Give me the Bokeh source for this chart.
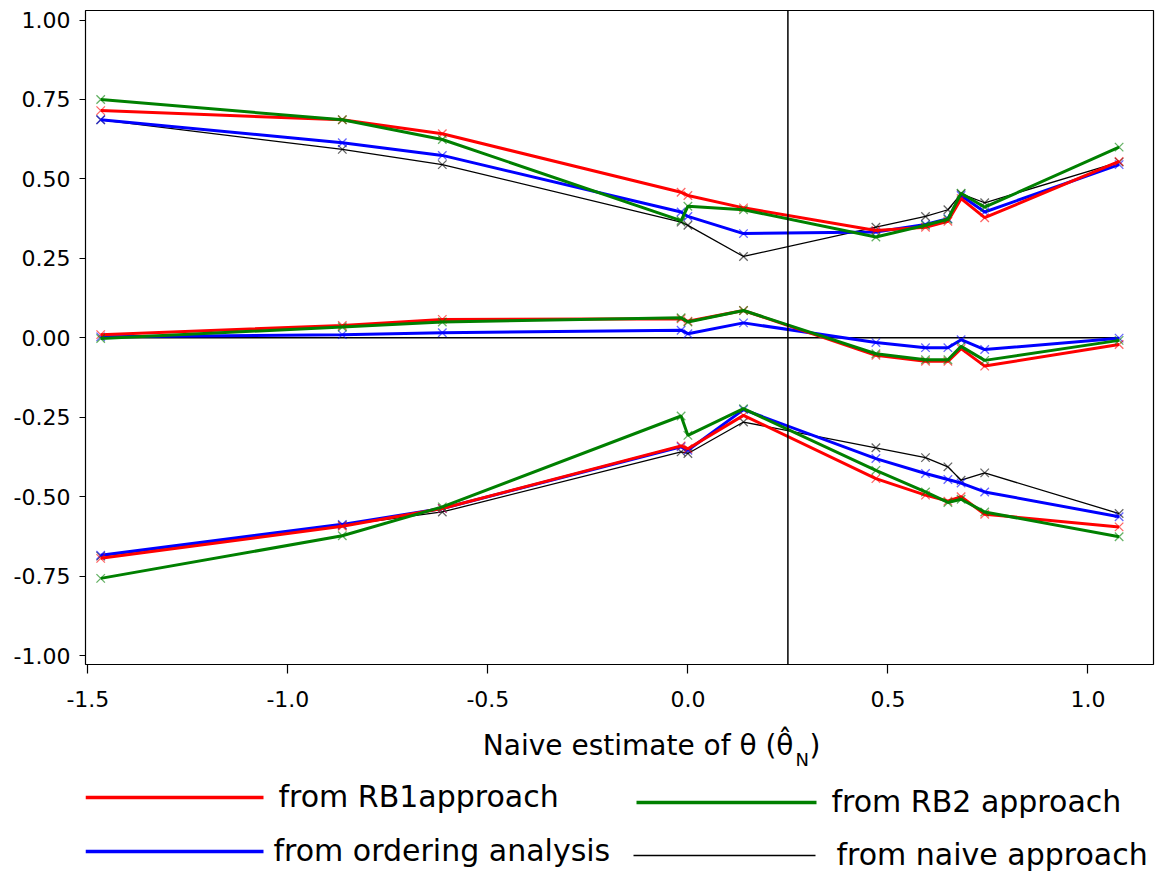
from bokeh.plotting import figure
from bokeh.models import Range1d, FixedTicker, PrintfTickFormatter, Span
from bokeh.layouts import column
from bokeh.embed import file_html
from bokeh.resources import INLINE
from bokeh.core.properties import value

# ---------------- data ----------------
theta_naive = [-1.468, -0.864, -0.614, -0.017, 0.000, 0.139, 0.470, 0.594, 0.650, 0.683, 0.742, 1.078]

rb1_upper = [0.715, 0.686, 0.642, 0.458, 0.448, 0.409, 0.338, 0.348, 0.367, 0.438, 0.378, 0.555]
rb1_mid   = [0.010, 0.039, 0.058, 0.060, 0.052, 0.086, -0.055, -0.074, -0.074, -0.034, -0.089, -0.021]
rb1_lower = [-0.694, -0.593, -0.537, -0.340, -0.349, -0.244, -0.443, -0.495, -0.514, -0.500, -0.555, -0.595]

rb2_upper = [0.750, 0.686, 0.624, 0.369, 0.414, 0.403, 0.317, 0.354, 0.373, 0.455, 0.411, 0.600]
rb2_mid   = [-0.002, 0.034, 0.050, 0.063, 0.050, 0.086, -0.050, -0.069, -0.069, -0.027, -0.071, -0.008]
rb2_lower = [-0.757, -0.623, -0.532, -0.246, -0.307, -0.223, -0.417, -0.485, -0.518, -0.508, -0.548, -0.626]

ord_upper = [0.686, 0.614, 0.574, 0.396, 0.382, 0.328, 0.333, 0.357, 0.375, 0.448, 0.396, 0.545]
ord_mid   = [0.003, 0.010, 0.016, 0.024, 0.013, 0.047, -0.015, -0.031, -0.031, -0.006, -0.037, -0.001]
ord_lower = [-0.684, -0.587, -0.537, -0.343, -0.354, -0.226, -0.380, -0.427, -0.446, -0.457, -0.485, -0.563]

naive_upper = [0.686, 0.593, 0.545, 0.364, 0.354, 0.256, 0.348, 0.382, 0.403, 0.453, 0.425, 0.553]
naive_mid   = [0.0, 0.0, 0.0, 0.0, 0.0, 0.0, 0.0, 0.0, 0.0, 0.0, 0.0, 0.0]
naive_lower = [-0.687, -0.590, -0.548, -0.359, -0.364, -0.265, -0.346, -0.377, -0.406, -0.448, -0.425, -0.553]

reference_theta = 0.25

x_ticks = [-1.5, -1.0, -0.5, 0.0, 0.5, 1.0]
y_ticks = [-1.0, -0.75, -0.5, -0.25, 0.0, 0.25, 0.5, 0.75, 1.0]

legend_labels = ["from RB1approach", "from RB2 approach", "from ordering analysis", "from naive approach"]
x_label = "Naive estimate of \u03b8 (\u03b8\u0302"
x_label_sub = "N"

FONT = "DejaVu Sans"

# layout constants (pixels)
W = 1155
FRAME_L, FRAME_R = 85, 1153
H_MAIN = 718
H_STRIP = 154

# ---------------- main plot ----------------
p = figure(width=W, height=H_MAIN,
           x_range=Range1d(-1.506, 1.164), y_range=Range1d(-1.028, 1.03),
           output_backend="svg", toolbar_location=None,
           min_border_left=FRAME_L, min_border_right=W - FRAME_R,
           min_border_top=10, min_border_bottom=54)
p.xgrid.visible = False
p.ygrid.visible = False
p.outline_line_color = "black"
p.outline_line_width = 1.2
p.outline_line_alpha = 1.0
p.background_fill_color = "white"
p.border_fill_color = "white"

p.xaxis.ticker = FixedTicker(ticks=x_ticks)
p.yaxis.ticker = FixedTicker(ticks=y_ticks)
p.xaxis.formatter = PrintfTickFormatter(format="%.1f")
p.yaxis.formatter = PrintfTickFormatter(format="%.2f")
for ax in (p.xaxis[0], p.yaxis[0]):
    ax.axis_line_color = None
    ax.minor_tick_line_color = None
    ax.major_tick_in = 0
    ax.major_tick_line_color = "black"
    ax.major_tick_line_width = 1.2
    ax.major_label_text_font = FONT
    ax.major_label_text_font_size = "22px"
    ax.major_label_text_color = "black"
p.xaxis.major_tick_out = 9
p.xaxis.major_label_standoff = 17
p.yaxis.major_tick_out = 6
p.yaxis.major_label_standoff = 9

p.add_layout(Span(location=reference_theta, dimension="height",
                  line_color="black", line_width=1.5))

series = [
    ("black", 1.3, [naive_lower, naive_upper], naive_mid),
    ("#0000ff", 3, [ord_lower, ord_mid, ord_upper], None),
    ("#ff0000", 3, [rb1_lower, rb1_mid, rb1_upper], None),
    ("#008000", 3, [rb2_lower, rb2_mid, rb2_upper], None),
]
for color, lw, curves, extra in series:
    if extra is not None:
        p.line(theta_naive, extra, line_color=color, line_width=1.5)
    for ys in curves:
        p.line(theta_naive, ys, line_color=color, line_width=lw)
        p.scatter(theta_naive, ys, marker="x", size=12, line_color=color,
                  line_alpha=0.6, line_width=1.3)

# ---------------- axis title + legend strip ----------------
# its frame gets aligned with the main frame, so x here is the window's x
q = figure(width=W, height=H_STRIP, x_range=Range1d(FRAME_L, FRAME_R), y_range=Range1d(H_STRIP, 0),
           output_backend="svg", toolbar_location=None,
           x_axis_type=None, y_axis_type=None, min_border=0,
           min_border_left=FRAME_L, min_border_right=W - FRAME_R)
q.grid.visible = False
q.outline_line_color = None
q.background_fill_color = "white"
q.border_fill_color = "white"

q.text(x=[793], y=[27], text=[x_label], text_align="right", text_baseline="alphabetic",
       text_font=value(FONT), text_font_size="28px", text_color="black")
q.text(x=[795], y=[41], text=[x_label_sub], text_align="left", text_baseline="alphabetic",
       text_font=value(FONT), text_font_size="18px", text_color="black")
q.text(x=[809], y=[27], text=[")"], text_align="left", text_baseline="alphabetic",
       text_font=value(FONT), text_font_size="28px", text_color="black")

leg_colors = ["#ff0000", "#008000", "#0000ff", "black"]
leg_widths = [3.5, 3.5, 3.5, 1.3]
leg_x0 = [85, 636, 85, 633]
leg_x1 = [263, 816, 263, 815]
leg_y = [79, 84, 133, 137]
leg_tx = [278, 831, 273, 836]
for lab, c, w, xa, xb, yy, tx in zip(legend_labels, leg_colors, leg_widths, leg_x0, leg_x1, leg_y, leg_tx):
    q.segment(x0=[xa], y0=[yy], x1=[xb], y1=[yy], line_color=c, line_width=w)
    q.text(x=[tx], y=[yy - 1], text=[lab], text_align="left", text_baseline="alphabetic",
           text_font=value(FONT), text_font_size="30px", text_color="black")

layout = column(p, q, spacing=0)
open("out.html", "w").write(file_html(layout, INLINE))
